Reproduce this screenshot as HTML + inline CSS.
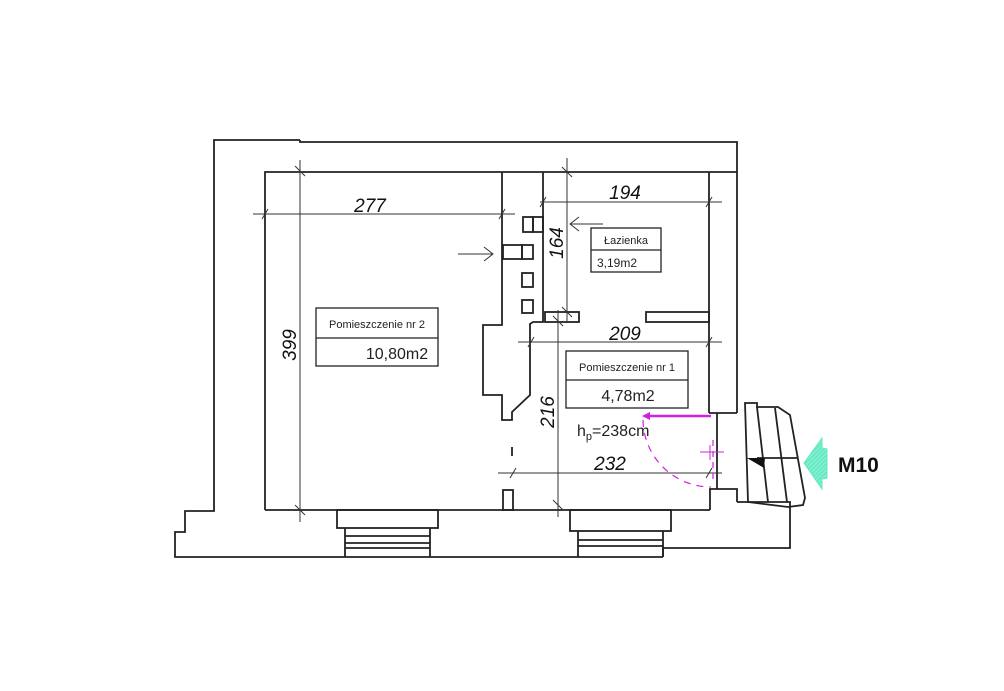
<!DOCTYPE html>
<html><head><meta charset="utf-8"><style>body{margin:0;background:#fff}svg{display:block}</style></head><body>
<svg width="1004" height="691" viewBox="0 0 1004 691" xmlns="http://www.w3.org/2000/svg" font-family="Liberation Sans, sans-serif">
<defs><pattern id="h" width="3" height="3" patternUnits="userSpaceOnUse" patternTransform="rotate(45)"><rect width="3" height="3" fill="#7ff0cf"/><line x1="0" y1="0" x2="0" y2="3" stroke="#3fd9a8" stroke-width="1"/></pattern></defs>
<g fill="none" stroke="#222" stroke-width="1.8">
<!-- outer -->
<polyline points="300,140 214,140 214,511 185,511 185,532 175,532 175,557 663,557"/>
<polyline points="300,140 300,142 737,142 737,413"/>
<!-- room 2 -->
<polyline points="265,510 265,172 737,172"/>
<line x1="265" y1="510" x2="710" y2="510"/>
<polyline points="502,172 502,325 483,325 483,395 502,395 502,420 512,420 512,412 530,395 530,324 533,322 543,322 543,172"/>
<line x1="709" y1="172" x2="709" y2="413"/>
<rect x="545" y="312" width="34" height="10"/>
<rect x="646" y="312" width="63" height="10"/>
<line x1="709" y1="413" x2="737" y2="413"/>
<line x1="717" y1="413" x2="717" y2="489"/>
<polyline points="710,510 710,489 737,489 737,502"/>
<!-- windows -->
<rect x="337" y="510" width="101" height="18"/>
<line x1="345" y1="528" x2="345" y2="557"/><line x1="430" y1="528" x2="430" y2="557"/>
<line x1="345" y1="536" x2="430" y2="536"/>
<line x1="345" y1="543" x2="430" y2="543"/><line x1="345" y1="548" x2="430" y2="548"/>
<rect x="570" y="510" width="101" height="21"/>
<line x1="578" y1="531" x2="578" y2="557"/><line x1="663" y1="531" x2="663" y2="557"/>
<line x1="578" y1="540" x2="663" y2="540"/><line x1="578" y1="546" x2="663" y2="546"/>
<polyline points="663,557 663,548 790,548 790,502 737,502"/>
<!-- chimney -->
<rect x="523" y="217" width="10" height="15"/><rect x="533" y="217" width="10" height="15"/>
<rect x="503" y="245" width="19" height="14"/><rect x="522" y="245" width="11" height="14"/>
<rect x="522" y="273" width="11" height="14"/><rect x="522" y="300" width="11" height="13"/>
<rect x="503" y="490" width="10" height="20"/>
<line x1="512" y1="447" x2="512" y2="456"/>
<!-- stairs -->
<polygon points="745,403 757,403 757,407 778,407 790,415 805,498 803,505 788,507 748,502"/>
<line x1="757" y1="407" x2="768" y2="502"/>
<line x1="775" y1="408" x2="787" y2="502"/>
<line x1="757" y1="458" x2="797" y2="458"/>
</g>
<polygon points="747,458 765,458 764,468" fill="#111"/>
<polygon points="804,463 822,438 822,448 827,449 827,478 822,479 822,489" fill="url(#h)" stroke="#5fe8c0"/>
<text x="838" y="472" font-size="21" font-weight="bold" fill="#111">M10</text>
<!-- dimension lines -->
<g stroke="#333" stroke-width="1" fill="none">
<line x1="300" y1="160" x2="300" y2="522"/><line x1="295" y1="166" x2="305" y2="176"/><line x1="295" y1="505" x2="305" y2="515"/>
<line x1="253" y1="214" x2="515" y2="214"/><line x1="262" y1="219" x2="268" y2="209"/><line x1="499" y1="219" x2="505" y2="209"/>
<line x1="540" y1="202" x2="722" y2="202"/><line x1="540" y1="207" x2="546" y2="197"/><line x1="706" y1="207" x2="712" y2="197"/>
<line x1="567" y1="158" x2="567" y2="323"/><line x1="562" y1="167" x2="572" y2="177"/><line x1="562" y1="307" x2="572" y2="317"/>
<line x1="518" y1="342" x2="722" y2="342"/><line x1="528" y1="347" x2="534" y2="337"/><line x1="706" y1="347" x2="712" y2="337"/>
<line x1="558" y1="310" x2="558" y2="517"/><line x1="553" y1="316" x2="563" y2="326"/><line x1="553" y1="500" x2="563" y2="510"/>
<line x1="498" y1="473" x2="722" y2="473"/><line x1="510" y1="478" x2="516" y2="468"/><line x1="706" y1="478" x2="712" y2="468"/>
<polyline points="458,254 493,254"/><polyline points="484,247 493,254 484,261"/>
<polyline points="603,224 570,224"/><polyline points="579,217 570,224 579,231"/>
</g>
<g font-size="19" font-style="italic" fill="#111" text-anchor="middle">
<text x="370" y="212">277</text>
<text x="625" y="199">194</text>
<text x="625" y="340">209</text>
<text x="610" y="470">232</text>
<text transform="translate(296,345) rotate(-90)">399</text>
<text transform="translate(563,243) rotate(-90)">164</text>
<text transform="translate(554,412) rotate(-90)">216</text>
</g>
<!-- labels -->
<g fill="#fff" stroke="#222" stroke-width="1.3">
<rect x="316" y="308" width="122" height="58"/><line x1="316" y1="338" x2="438" y2="338"/>
<rect x="591" y="228" width="70" height="44"/><line x1="591" y1="250" x2="661" y2="250"/>
<rect x="566" y="351" width="122" height="57"/><line x1="566" y1="380" x2="688" y2="380"/>
</g>
<g fill="#222">
<text x="377" y="328" font-size="11" text-anchor="middle">Pomieszczenie nr 2</text>
<text x="397" y="359" font-size="16" text-anchor="middle">10,80m2</text>
<text x="626" y="244" font-size="11" text-anchor="middle">Łazienka</text>
<text x="597" y="267" font-size="12">3,19m2</text>
<text x="627" y="371" font-size="11" text-anchor="middle">Pomieszczenie nr 1</text>
<text x="628" y="401" font-size="16" text-anchor="middle">4,78m2</text>
<text x="577" y="436" font-size="16">h<tspan font-size="11" dy="4">p</tspan><tspan dy="-4">=238cm</tspan></text>
</g>
<!-- magenta door -->
<g stroke="#d020e0" fill="none">
<line x1="648" y1="416" x2="711" y2="416" stroke-width="2.5"/>
<path d="M643,420 A68,68 0 0 0 711,487" stroke-dasharray="7,6" stroke-width="1.2"/>
<line x1="713" y1="440" x2="713" y2="482" stroke-dasharray="6,5" stroke-width="1.2"/>
<line x1="700" y1="452" x2="724" y2="452" stroke-width="1"/>
<line x1="710" y1="445" x2="710" y2="460" stroke-width="1"/>
</g>
<polygon points="642,416 650,412 650,420" fill="#d020e0"/>
</svg>
</body></html>
